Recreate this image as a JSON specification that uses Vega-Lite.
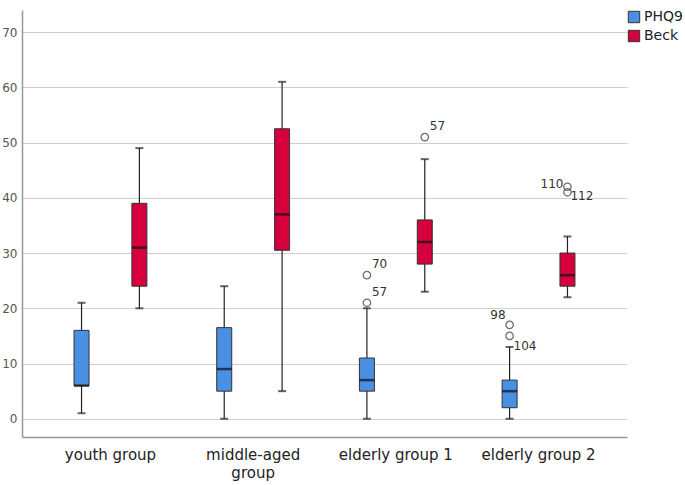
{
  "$schema": "https://vega.github.io/schema/vega-lite/v6.json",
  "autosize": {"type": "none"},
  "padding": {"left": 22, "top": 10, "right": 58, "bottom": 48},
  "width": 605,
  "height": 427,
  "background": "white",
  "config": {
    "view": {"stroke": null},
    "font": "DejaVu Sans",
    "axis": {"labelFont": "DejaVu Sans"}
  },
  "datasets": {
    "boxes": [
      {"group": "youth group", "series": "PHQ9", "lo": 1, "q1": 6, "med": 6, "q3": 16, "hi": 21},
      {"group": "youth group", "series": "Beck", "lo": 20, "q1": 24, "med": 31, "q3": 39, "hi": 49},
      {"group": "middle-aged group", "series": "PHQ9", "lo": 0, "q1": 5, "med": 9, "q3": 16.5, "hi": 24},
      {"group": "middle-aged group", "series": "Beck", "lo": 5, "q1": 30.5, "med": 37, "q3": 52.5, "hi": 61},
      {"group": "elderly group 1", "series": "PHQ9", "lo": 0, "q1": 5, "med": 7, "q3": 11, "hi": 20},
      {"group": "elderly group 1", "series": "Beck", "lo": 23, "q1": 28, "med": 32, "q3": 36, "hi": 47},
      {"group": "elderly group 2", "series": "PHQ9", "lo": 0, "q1": 2, "med": 5, "q3": 7, "hi": 13},
      {"group": "elderly group 2", "series": "Beck", "lo": 22, "q1": 24, "med": 26, "q3": 30, "hi": 33}
    ],
    "outliers": [
      {"group": "elderly group 1", "series": "PHQ9", "value": 21, "id": "57"},
      {"group": "elderly group 1", "series": "PHQ9", "value": 26, "id": "70"},
      {"group": "elderly group 1", "series": "Beck", "value": 51, "id": "57"},
      {"group": "elderly group 2", "series": "PHQ9", "value": 15, "id": "104"},
      {"group": "elderly group 2", "series": "PHQ9", "value": 17, "id": "98"},
      {"group": "elderly group 2", "series": "Beck", "value": 41, "id": "112"},
      {"group": "elderly group 2", "series": "Beck", "value": 42, "id": "110"}
    ]
  },
  "encoding": {
    "x": {
      "field": "group", "type": "nominal",
      "sort": ["youth group", "middle-aged group", "elderly group 1", "elderly group 2"],
      "scale": {"paddingInner": 0, "paddingOuter": 0.12},
      "axis": {
        "title": null, "grid": false, "ticks": false, "labelAngle": 0,
        "labelFontSize": 15, "labelColor": "#222", "labelPadding": 10,
        "domainColor": "#999", "domainWidth": 1.5, "labelLineHeight": 18,
        "labelExpr": "datum.value == 'middle-aged group' ? ['middle-aged', 'group'] : datum.value"
      }
    },
    "xOffset": {
      "field": "series", "type": "nominal", "sort": ["PHQ9", "Beck"],
      "scale": {"paddingOuter": 0.233, "paddingInner": 0}
    }
  },
  "layer": [
    {
      "data": {"name": "boxes"},
      "mark": {"type": "rule", "color": "#222", "strokeWidth": 1.2},
      "encoding": {
        "y": {
          "field": "lo", "type": "quantitative",
          "scale": {"domain": [-3.3, 74], "nice": false, "zero": false},
          "axis": {
            "title": null, "values": [0, 10, 20, 30, 40, 50, 60, 70],
            "ticks": false, "labelFontSize": 12, "labelColor": "#555", "labelPadding": 5,
            "gridColor": "#cfcfcf", "gridWidth": 1.2, "domainColor": "#999", "domainWidth": 1.5
          }
        },
        "y2": {"field": "hi"}
      }
    },
    {
      "data": {"name": "boxes"},
      "mark": {"type": "tick", "color": "#222", "size": 8, "thickness": 2},
      "encoding": {"y": {"field": "lo", "type": "quantitative"}}
    },
    {
      "data": {"name": "boxes"},
      "mark": {"type": "tick", "color": "#222", "size": 8, "thickness": 2},
      "encoding": {"y": {"field": "hi", "type": "quantitative"}}
    },
    {
      "data": {"name": "boxes"},
      "mark": {"type": "bar", "width": 15, "stroke": "#333", "strokeWidth": 1},
      "encoding": {
        "y": {"field": "q1", "type": "quantitative"},
        "y2": {"field": "q3"},
        "color": {
          "field": "series", "type": "nominal", "sort": ["PHQ9", "Beck"],
          "scale": {"domain": ["PHQ9", "Beck"], "range": ["#4A90E2", "#D6003C"]},
          "legend": {
            "title": null, "orient": "none", "legendX": 605, "legendY": 0,
            "symbolType": "square", "symbolSize": 130, "symbolStrokeColor": "#333",
            "symbolStrokeWidth": 1, "labelFontSize": 14, "labelColor": "#222",
            "rowPadding": 3, "labelOffset": 3, "padding": 0
          }
        }
      }
    },
    {
      "data": {"name": "boxes"},
      "mark": {"type": "tick", "color": "#111", "size": 15, "thickness": 2.5},
      "encoding": {"y": {"field": "med", "type": "quantitative"}}
    },
    {
      "data": {"name": "outliers"},
      "mark": {"type": "point", "shape": "circle", "filled": false, "stroke": "#333", "strokeWidth": 1.3, "size": 55},
      "encoding": {"y": {"field": "value", "type": "quantitative"}}
    },
    {
      "data": {"name": "outliers"},
      "transform": [{"filter": "indexof(['57', '70'], datum.id) >= 0"}],
      "mark": {"type": "text", "align": "left", "baseline": "middle", "dx": 5, "dy": -11, "fontSize": 12, "color": "#333"},
      "encoding": {"y": {"field": "value", "type": "quantitative"}, "text": {"field": "id"}}
    },
    {
      "data": {"name": "outliers"},
      "transform": [{"filter": "datum.id == '98'"}],
      "mark": {"type": "text", "align": "right", "baseline": "middle", "dx": -4, "dy": -10, "fontSize": 12, "color": "#333"},
      "encoding": {"y": {"field": "value", "type": "quantitative"}, "text": {"field": "id"}}
    },
    {
      "data": {"name": "outliers"},
      "transform": [{"filter": "datum.id == '110'"}],
      "mark": {"type": "text", "align": "right", "baseline": "middle", "dx": -4, "dy": -3, "fontSize": 12, "color": "#333"},
      "encoding": {"y": {"field": "value", "type": "quantitative"}, "text": {"field": "id"}}
    },
    {
      "data": {"name": "outliers"},
      "transform": [{"filter": "datum.id == '112'"}],
      "mark": {"type": "text", "align": "left", "baseline": "middle", "dx": 3, "dy": 4, "fontSize": 12, "color": "#333"},
      "encoding": {"y": {"field": "value", "type": "quantitative"}, "text": {"field": "id"}}
    },
    {
      "data": {"name": "outliers"},
      "transform": [{"filter": "datum.id == '104'"}],
      "mark": {"type": "text", "align": "left", "baseline": "middle", "dx": 4, "dy": 10, "fontSize": 12, "color": "#333"},
      "encoding": {"y": {"field": "value", "type": "quantitative"}, "text": {"field": "id"}}
    }
  ]
}
